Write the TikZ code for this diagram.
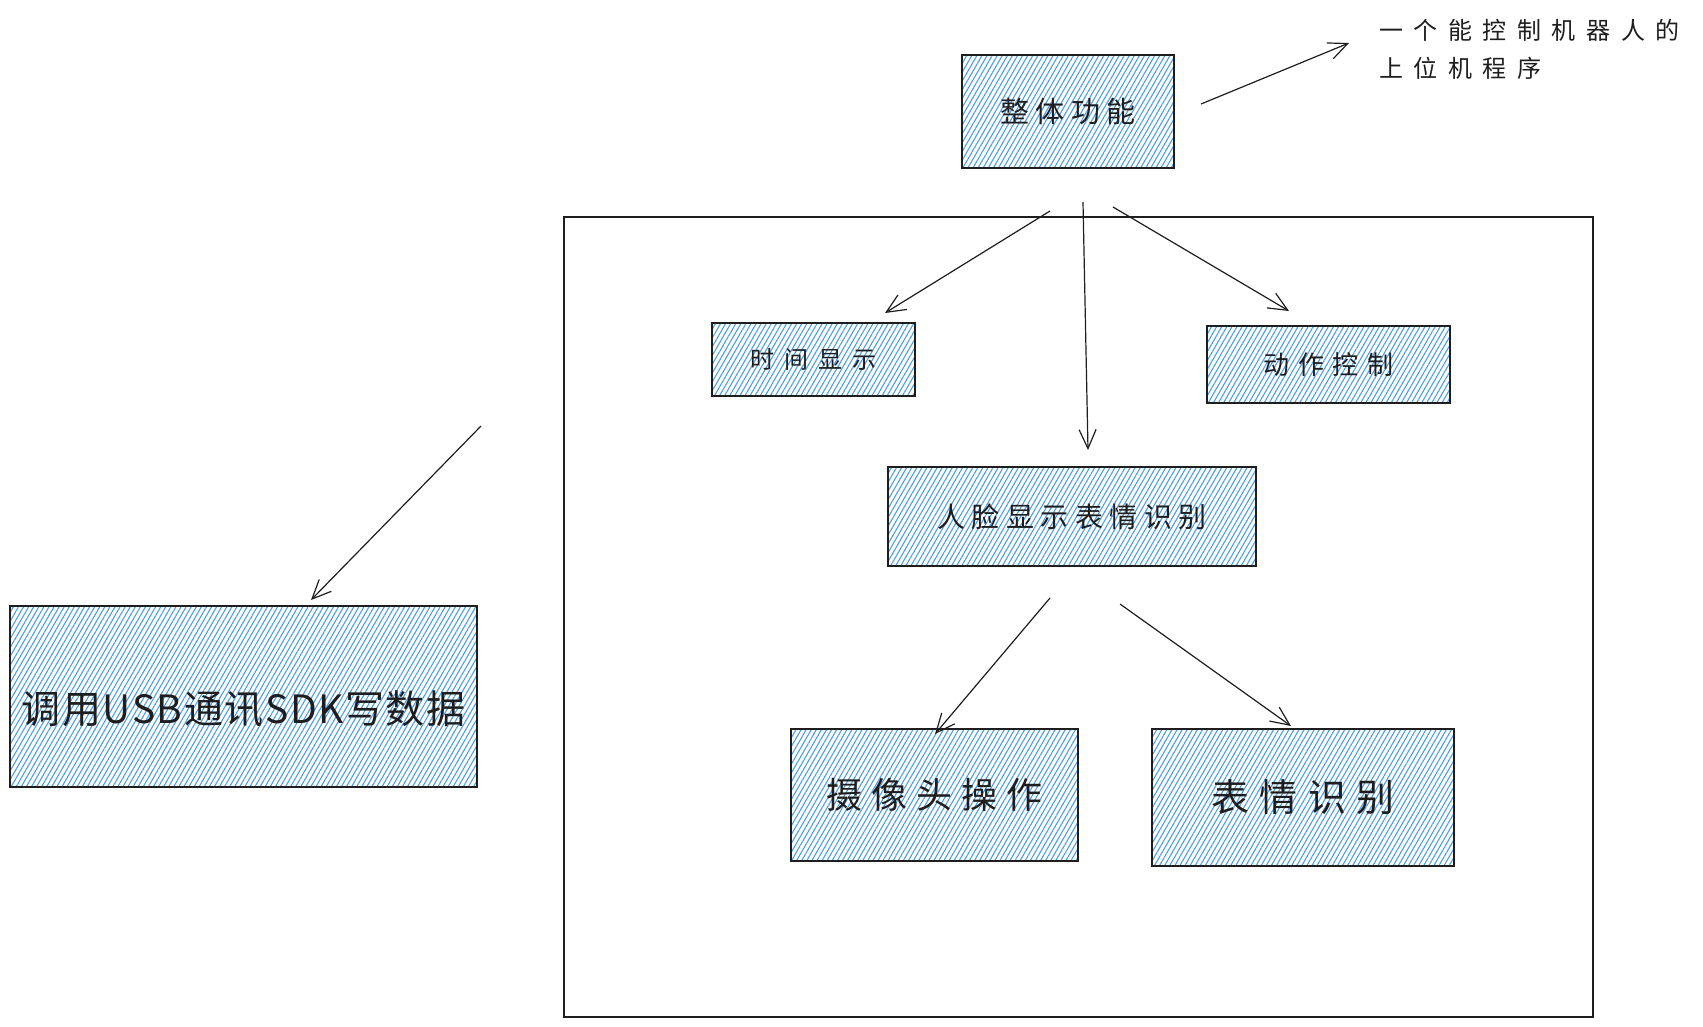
\documentclass[tikz,border=0pt]{standalone}
\usepackage{fontspec}
\setmainfont{Noto Sans CJK SC}
\usetikzlibrary{arrows.meta,patterns.meta}
\definecolor{ink}{HTML}{1E1E1E}
\definecolor{hatch}{RGB}{74,158,238}
\newcommand{\lsp}[3]{\fontsize{#1pt}{#1pt}\selectfont\addfontfeature{LetterSpace=#2}#3}
\tikzset{
  box/.style={draw=ink, line width=1.5pt, pattern={Lines[angle=60,distance=4.4pt,line width=1.1pt]}, pattern color=hatch, inner sep=0pt, text=ink},
  frame/.style={draw=ink, line width=1.3pt, inner sep=0pt},
  conn/.style={draw=ink, line width=1.2pt, -{Straight Barb[length=19pt,width=17pt,line width=1.2pt]}},
  note/.style={text=ink, inner sep=0pt, align=left, anchor=west}
}
\begin{document}
\begin{tikzpicture}[x=1pt,y=-1pt]
\useasboundingbox (0,0) rectangle (1703,1026);
\fill[white] (0,0) rectangle (1703,1026);
% frame
\node[frame, minimum width=1029pt, minimum height=800pt] (frm) at (1078.5,617) {};
% boxes
\node[box, minimum width=212pt, minimum height=113pt] (whole) at (1068,111.5) {\lsp{29}{22}{整体功能}};
\node[box, minimum width=203pt, minimum height=73pt] (time) at (813.5,359.5) {\lsp{24}{42}{时间显示}};
\node[box, minimum width=243pt, minimum height=77pt] (act) at (1328.5,364.5) {\lsp{26}{33}{动作控制}};
\node[box, minimum width=368pt, minimum height=99pt] (face) at (1072,516.5) {\lsp{28}{23}{人脸显示表情识别}};
\node[box, minimum width=287pt, minimum height=132pt] (cam) at (934.5,795) {\lsp{36}{25}{摄像头操作}};
\node[box, minimum width=302pt, minimum height=137pt] (expr) at (1303,797.5) {\lsp{38}{28}{表情识别}};
\node[box, minimum width=467pt, minimum height=181pt] (usb) at (243.5,696.5) {};
\node[text=ink, inner sep=0pt] (usbt) at (243.5,709) {\lsp{39}{4}{调用USB通讯SDK写数据}};
% annotation
\node[note] (n1) at (1379,30) {\lsp{24}{44}{一个能控制机器人的}};
\node[note] (n2) at (1379,68) {\lsp{24}{44}{上位机程序}};
% connector end points
\coordinate (a1s) at (1201,104); \coordinate (a1e) at (1349,43);
\coordinate (a2s) at (1050,211); \coordinate (a2e) at (885,313);
\coordinate (a3s) at (1083,202); \coordinate (a3e) at (1088,450);
\coordinate (a4s) at (1113,207); \coordinate (a4e) at (1289,311);
\coordinate (a5s) at (481,426);  \coordinate (a5e) at (311,600);
\coordinate (a6s) at (1050,598); \coordinate (a6e) at (935,734);
\coordinate (a7s) at (1120,604); \coordinate (a7e) at (1291,726);
\draw[conn] (a1s) -- (a1e);
\draw[conn] (a2s) -- (a2e);
\draw[conn] (a3s) -- (a3e);
\draw[conn] (a4s) -- (a4e);
\draw[conn] (a5s) -- (a5e);
\draw[conn] (a6s) -- (a6e);
\draw[conn] (a7s) -- (a7e);
\end{tikzpicture}
\end{document}
